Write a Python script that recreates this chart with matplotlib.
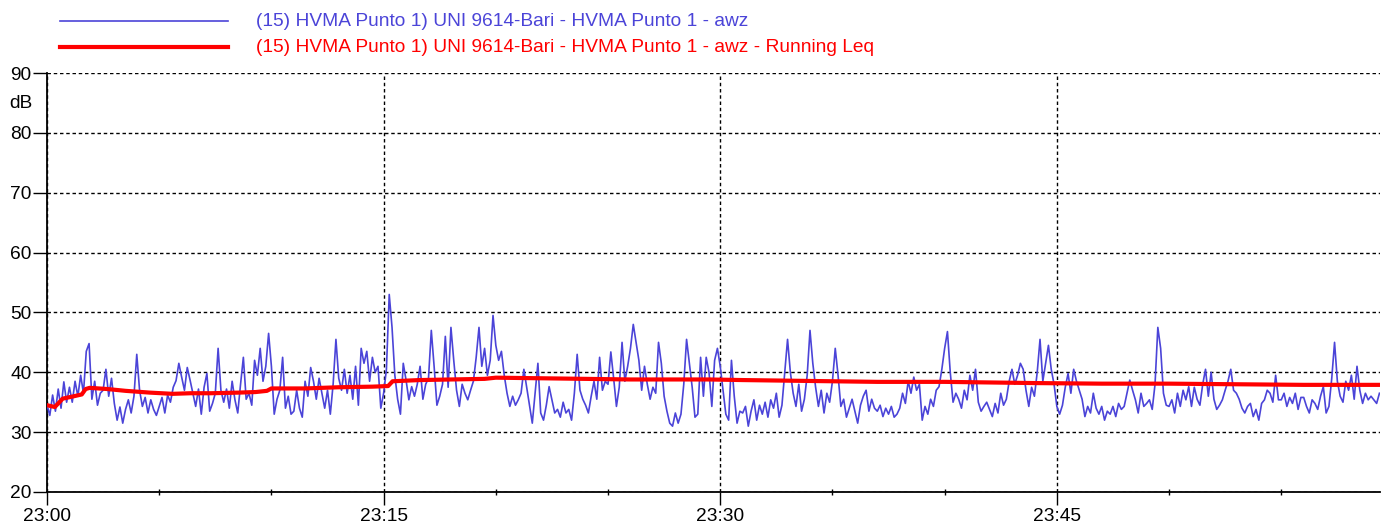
import numpy as np
import matplotlib
matplotlib.use("Agg")
import matplotlib.pyplot as plt
from matplotlib.lines import Line2D
from matplotlib.ticker import MultipleLocator, FuncFormatter

plt.rcParams['font.family'] = ['Liberation Sans', 'DejaVu Sans']

# awz level, one value every 7.5 s starting at 23:00 (8 values per minute)
awz_db = [
    34.5, 32.8, 36.2, 33.5, 37.2, 34.0, 38.4, 35.0,
    37.5, 35.0, 38.5, 36.0, 39.5, 36.5, 43.5, 44.8,
    35.5, 38.5, 34.5, 36.5, 37.0, 40.5, 36.0, 39.0,
    34.8, 32.0, 34.2, 31.5, 33.8, 35.4, 33.2, 36.0,
    43.0, 37.0, 34.3, 35.8, 33.2, 35.4, 33.8, 32.8,
    34.3, 35.8, 33.2, 36.2, 35.0, 37.5, 38.6, 41.5,
    39.2, 37.0, 40.8, 38.7, 36.5, 34.3, 37.2, 33.0,
    37.5, 39.8, 33.5, 34.8, 36.5, 44.0, 37.0, 35.0,
    37.2, 34.0, 38.5, 35.4, 33.2, 38.0, 42.5, 35.5,
    36.5, 34.5, 42.0, 39.5, 44.0, 38.5, 41.0, 46.5,
    41.0, 33.0, 35.5, 37.0, 42.5, 34.0, 36.0, 33.0,
    33.5, 37.0, 34.0, 32.5, 38.5, 36.0, 40.8, 38.5,
    35.5, 39.0, 36.5, 34.0, 37.0, 33.0, 38.0, 45.5,
    39.0, 37.0, 40.5, 36.5, 39.5, 35.5, 41.0, 34.5,
    44.0, 41.5, 43.5, 38.5, 42.5, 40.0, 41.0, 34.0,
    36.5, 40.5, 53.0, 47.5, 39.5, 35.5, 33.0, 41.5,
    38.7, 35.4, 37.6, 36.0, 38.0, 41.0, 35.5, 38.0,
    39.0, 47.0, 41.0, 34.5, 36.0, 38.0, 46.0, 37.5,
    47.5, 42.0, 37.0, 34.3, 38.0, 36.5, 35.4, 37.0,
    38.5, 42.5, 47.5, 41.0, 44.0, 39.5, 42.0, 49.5,
    44.5, 42.0, 43.5, 39.5, 36.5, 34.3, 36.0, 34.5,
    35.4, 36.5, 40.5, 37.5, 34.5, 31.5, 36.5, 41.5,
    33.2, 32.0, 34.5, 37.6, 35.4, 33.2, 33.8, 32.5,
    35.0, 33.2, 33.8, 32.0, 36.5, 43.0, 37.0, 35.5,
    34.5, 33.2, 36.0, 38.5, 35.5, 42.5, 37.0, 38.5,
    38.0, 43.4, 39.0, 34.3, 37.5, 45.0, 38.5, 41.0,
    44.0, 48.0, 45.0, 42.0, 37.0, 41.0, 38.0, 35.5,
    37.5, 36.5, 45.0, 41.5, 36.0, 33.5, 31.5, 31.0,
    33.2, 31.5, 33.0, 38.0, 45.5, 41.5, 37.5, 32.5,
    33.0, 42.5, 36.0, 42.5, 40.0, 34.3, 42.0, 44.0,
    41.0, 37.0, 33.0, 32.0, 42.0, 36.0, 31.5, 33.5,
    33.2, 34.3, 31.0, 33.5, 35.4, 32.0, 34.5, 33.0,
    35.0, 32.5, 35.4, 34.0, 36.5, 32.5, 34.5, 40.0,
    45.5, 40.0, 36.5, 34.3, 38.0, 33.5, 35.5, 39.5,
    47.0, 41.5, 37.5, 34.3, 37.0, 33.2, 36.5, 35.0,
    38.5, 44.0, 39.5, 34.3, 35.5, 32.5, 34.0, 35.5,
    33.5, 31.5, 34.5, 36.0, 37.0, 33.5, 35.5, 34.0,
    33.5, 34.5, 32.6, 34.0, 33.0, 34.3, 32.5, 33.0,
    34.0, 36.5, 34.8, 38.5, 36.5, 39.2, 37.0, 38.0,
    32.0, 34.3, 33.0, 35.5, 34.3, 37.0, 37.6, 40.5,
    44.0, 46.8, 40.0, 35.0, 36.5, 35.5, 34.0, 37.0,
    35.4, 39.5, 37.0, 40.5, 35.0, 33.5, 34.3, 35.0,
    33.8, 32.6, 34.8, 33.2, 36.5, 34.5, 35.5, 38.5,
    40.5, 38.0, 39.5, 41.5, 40.5, 37.0, 34.3, 37.5,
    36.0, 40.0, 45.5, 38.5, 41.5, 44.5, 40.5, 38.0,
    34.3, 33.0, 34.5, 37.5, 39.8, 36.5, 40.5, 38.5,
    37.0, 35.5, 32.6, 34.3, 33.2, 36.5, 34.0, 33.0,
    34.3, 32.0, 33.5, 33.0, 34.3, 32.6, 34.8, 33.8,
    34.3, 36.5, 38.7, 37.0, 35.4, 33.2, 36.5, 34.3,
    34.8, 35.4, 33.8, 38.0, 47.5, 44.0, 36.5, 34.5,
    34.3, 35.4, 33.2, 36.5, 34.3, 37.0, 35.4, 37.6,
    34.3, 37.5, 35.5, 34.5, 38.0, 40.5, 36.0, 40.0,
    35.5, 33.8, 34.5, 35.4, 37.0, 38.5, 40.5, 37.0,
    36.5, 35.5, 34.0, 33.2, 34.3, 34.8, 32.6, 33.8,
    32.0, 34.8, 35.4, 37.0, 36.5, 35.0, 39.5, 35.4,
    35.4, 36.5, 34.3, 35.8, 34.8, 36.5, 33.8, 35.8,
    35.8, 34.3, 33.2, 35.4, 34.8, 33.8, 36.0, 37.6,
    33.2, 34.3, 39.0, 45.0, 38.5, 36.0, 35.0, 38.5,
    37.0, 39.5, 35.5, 41.0, 37.0, 34.8, 36.5, 35.4,
    36.0, 35.4, 34.8, 36.5,
]
awz_step_min = 7.5 / 60.0

# running Leq (minutes after 23:00, dB)
leq_min = [0.0, 0.35, 0.7, 1.2, 1.55, 1.72, 1.9, 2.7, 3.5, 4.6, 5.6, 6.4,
           7.3, 8.5, 9.3, 9.8, 10.0, 11.5, 13.0, 14.5, 15.2, 15.4, 16.6,
           18.0, 19.5, 20.0, 22.0, 24.0, 26.0, 28.0, 29.5, 31.0, 33.0, 35.0,
           37.0, 40.0, 42.0, 44.0, 47.0, 50.0, 53.0, 56.0, 59.4]
leq_db = [34.5, 34.2, 35.6, 36.0, 36.3, 37.2, 37.4, 37.2, 36.9, 36.6, 36.4,
          36.5, 36.5, 36.6, 36.7, 36.9, 37.3, 37.3, 37.5, 37.6, 37.7, 38.5,
          38.7, 38.8, 38.9, 39.1, 39.0, 38.9, 38.8, 38.8, 38.8, 38.7, 38.6,
          38.5, 38.4, 38.4, 38.3, 38.2, 38.1, 38.1, 38.0, 37.9, 37.9]

label_awz = "(15) HVMA Punto 1) UNI 9614-Bari - HVMA Punto 1 - awz"
label_leq = label_awz + " - Running Leq"

BLUE = '#4b44d8'
RED = '#ff0000'
W, H = 1383, 526
FS = 13.8

fig = plt.figure(figsize=(W / 100, H / 100), dpi=100)
ax = fig.add_axes([47 / W, 1 - 492 / H, 1333 / W, 419 / H])

t = np.arange(len(awz_db)) * awz_step_min
ax.plot(t, awz_db, color=BLUE, lw=1.2, zorder=3)
ax.plot(leq_min, leq_db, color=RED, lw=3.0, zorder=4, solid_joinstyle='round')

ax.set_xlim(0, 59.4)
ax.set_ylim(20, 90)

ax.xaxis.set_major_locator(MultipleLocator(15))
ax.xaxis.set_minor_locator(MultipleLocator(5))
ax.xaxis.set_major_formatter(FuncFormatter(lambda v, p: "23:%02d" % int(round(v))))
ax.yaxis.set_major_locator(MultipleLocator(10))

ax.tick_params(axis='x', which='major', direction='out', length=9.5, width=1,
               pad=2, labelsize=FS)
ax.tick_params(axis='x', which='minor', direction='inout', length=4.5, width=1)
ax.tick_params(axis='y', which='major', direction='out', length=10, width=1,
               pad=1, labelsize=FS)

ax.grid(True, which='major', color='black', lw=1.0, linestyle=(0, (2.5, 2)))
for side in ('top', 'right'):
    ax.spines[side].set_visible(False)
ax.spines['left'].set_linewidth(1.3)
ax.spines['bottom'].set_linewidth(1.3)

fig.text(21 / W, 1 - 104 / H, "dB", ha='center', va='center', fontsize=FS)

# legend drawn above the axes
for y, col, lw, txt in [(21, BLUE, 1.2, label_awz), (47, RED, 3.0, label_leq)]:
    fig.add_artist(Line2D([60 / W, 228 / W], [1 - y / H, 1 - y / H],
                          color=col, lw=lw, transform=fig.transFigure))
    fig.text(256 / W, 1 - (y + 0.5) / H, txt, color=col, fontsize=FS,
             ha='left', va='center')

fig.savefig("out.png", dpi=100)
